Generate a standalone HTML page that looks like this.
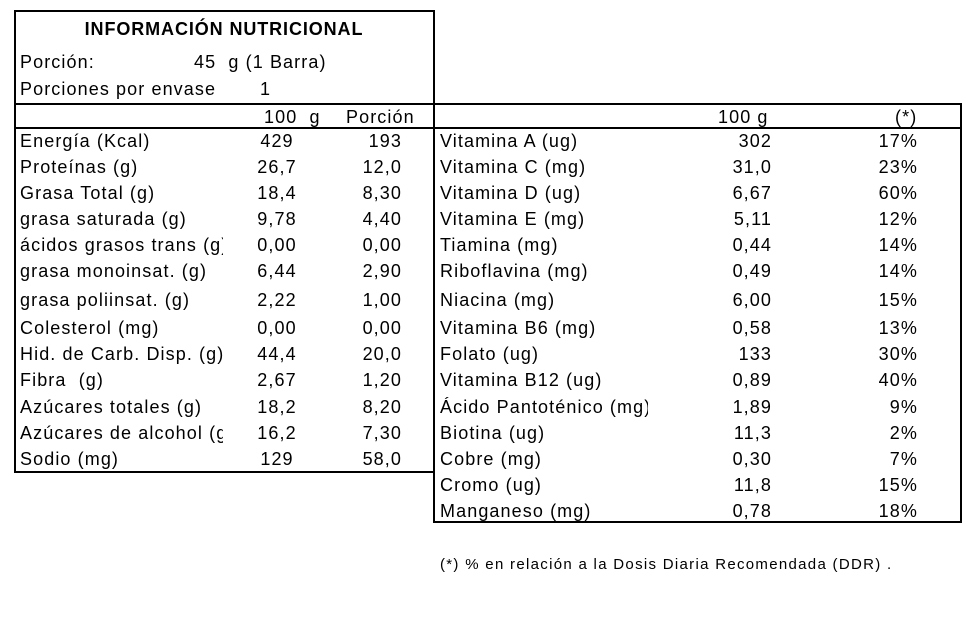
<!DOCTYPE html><html><head><meta charset="utf-8"><style>
body{margin:0;background:#fff;width:980px;height:642px;position:relative;overflow:hidden;font-family:"Liberation Sans",Arial,sans-serif;font-size:18px;letter-spacing:1.1px;color:#000}
.t{position:absolute;line-height:20px;white-space:nowrap}
.b{position:absolute;background:#000}
.c{text-align:center;width:80px}
.r{text-align:right;width:80px}
.n{overflow:hidden}
</style></head><body>
<div class="b" style="left:14px;top:10px;width:421px;height:2px"></div>
<div class="b" style="left:14px;top:10px;width:2px;height:463px"></div>
<div class="b" style="left:433px;top:10px;width:2px;height:513px"></div>
<div class="b" style="left:14px;top:471px;width:420px;height:2px"></div>
<div class="b" style="left:14px;top:103px;width:948px;height:2px"></div>
<div class="b" style="left:14px;top:127px;width:948px;height:2px"></div>
<div class="b" style="left:960px;top:103px;width:2px;height:420px"></div>
<div class="b" style="left:433px;top:521px;width:529px;height:2px"></div>
<div class="t" style="left:14px;top:19px;width:420px;text-align:center;font-weight:bold;letter-spacing:0.9px">INFORMACIÓN NUTRICIONAL</div>
<div class="t" style="left:20px;top:52px">Porción:</div>
<div class="t" style="left:194px;top:52px">45&nbsp; g (1 Barra)</div>
<div class="t" style="left:20px;top:79px">Porciones por envase</div>
<div class="t" style="left:260px;top:79px">1</div>
<div class="t" style="left:264px;top:107px">100&nbsp; g</div>
<div class="t" style="left:346px;top:107px">Porción</div>
<div class="t" style="left:718px;top:107px">100 g</div>
<div class="t" style="left:895px;top:107px">(*)</div>
<div id="L"></div>
<div class="t" style="left:440px;top:555px;font-size:15px;letter-spacing:1.3px">(*) % en relación a la Dosis Diaria Recomendada (DDR) .</div>
<script>
var ys=[141,167,193,219,245,271,300,328,354,380,407,433,459,485,511];
var L=[["Energía (Kcal)","429","193"],["Proteínas (g)","26,7","12,0"],["Grasa Total (g)","18,4","8,30"],["grasa saturada (g)","9,78","4,40"],["ácidos grasos trans (g)","0,00","0,00"],["grasa monoinsat. (g)","6,44","2,90"],["grasa poliinsat. (g)","2,22","1,00"],["Colesterol (mg)","0,00","0,00"],["Hid. de Carb. Disp. (g)","44,4","20,0"],["Fibra&nbsp; (g)","2,67","1,20"],["Azúcares totales (g)","18,2","8,20"],["Azúcares de alcohol (g)","16,2","7,30"],["Sodio (mg)","129","58,0"]];
var R=[["Vitamina A (ug)","302","17%"],["Vitamina C (mg)","31,0","23%"],["Vitamina D (ug)","6,67","60%"],["Vitamina E (mg)","5,11","12%"],["Tiamina (mg)","0,44","14%"],["Riboflavina (mg)","0,49","14%"],["Niacina (mg)","6,00","15%"],["Vitamina B6 (mg)","0,58","13%"],["Folato (ug)","133","30%"],["Vitamina B12 (ug)","0,89","40%"],["Ácido Pantoténico (mg)","1,89","9%"],["Biotina (ug)","11,3","2%"],["Cobre (mg)","0,30","7%"],["Cromo (ug)","11,8","15%"],["Manganeso (mg)","0,78","18%"]];
var h="";
L.forEach(function(r,i){var y=ys[i]-10;
h+='<div class="t n" style="left:20px;top:'+y+'px;width:203px">'+r[0]+'</div>';
h+='<div class="t c" style="left:237px;top:'+y+'px">'+r[1]+'</div>';
h+='<div class="t r" style="left:322px;top:'+y+'px">'+r[2]+'</div>';});
R.forEach(function(r,i){var y=ys[i]-10;
h+='<div class="t n" style="left:440px;top:'+y+'px;width:208px">'+r[0]+'</div>';
h+='<div class="t r" style="left:692px;top:'+y+'px">'+r[1]+'</div>';
h+='<div class="t r" style="left:838px;top:'+y+'px">'+r[2]+'</div>';});
document.getElementById("L").innerHTML=h;
</script>
</body></html>
